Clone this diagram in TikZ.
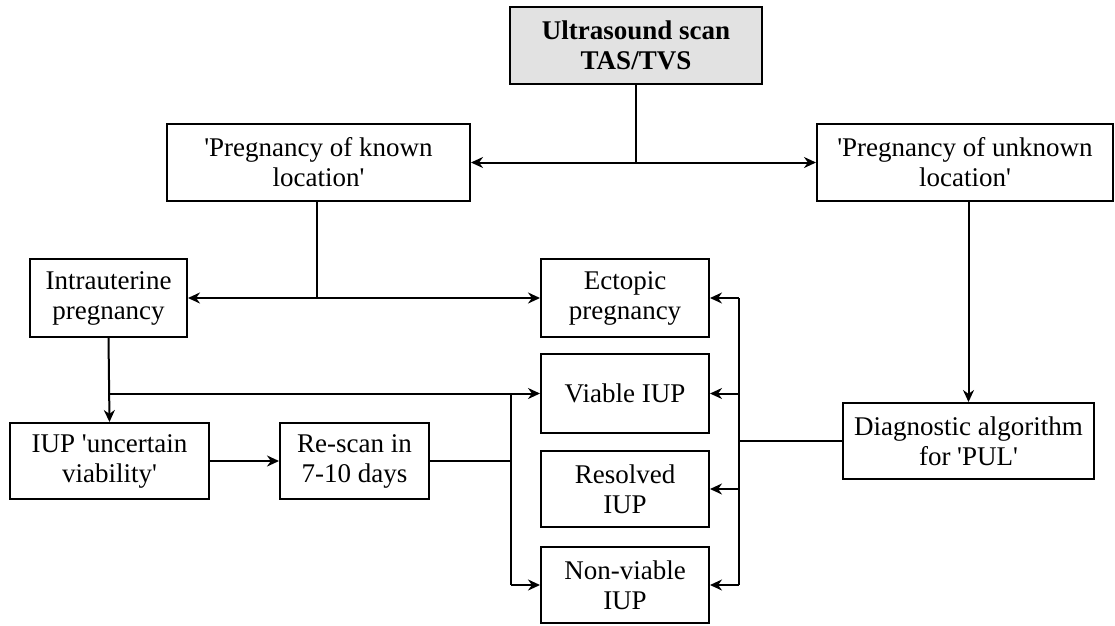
\documentclass[tikz,border=0pt]{standalone}
\usepackage{fontspec}
\setmainfont{Liberation Serif}[Ligatures=TeXOff]
\usetikzlibrary{arrows.meta}
\definecolor{boxgray}{HTML}{E2E2E2}
\begin{document}
\begin{tikzpicture}[x=1pt,y=-1pt,
  every node/.style={font=\fontsize{27}{30}\selectfont},
  box/.style={draw, line width=2pt, align=center, inner sep=0pt},
  conn/.style={line width=2pt},
  arr/.style={conn, -{Stealth[length=12pt,width=11pt]}},
  darr/.style={conn, {Stealth[length=12pt,width=11pt]}-{Stealth[length=12pt,width=11pt]}}]
\useasboundingbox (0,0) rectangle (1115,625);
% nodes
\node[box, fill=boxgray, minimum width=252pt, minimum height=77pt] (us) at (636,45.5) {\textbf{Ultrasound scan}\\\textbf{TAS/TVS}};
\node[box, minimum width=303pt, minimum height=77pt] (pkl) at (318.5,162.5) {'Pregnancy of known\\location'};
\node[box, minimum width=296pt, minimum height=77pt] (pul) at (965,162.5) {'Pregnancy of unknown\\location'};
\node[box, minimum width=157pt, minimum height=78pt] (iu) at (108.5,298) {Intrauterine\\pregnancy};
\node[box, minimum width=168pt, minimum height=78pt] (ect) at (625,298) {Ectopic\\pregnancy};
\node[box, minimum width=168pt, minimum height=79pt] (via) at (625,393.5) {Viable IUP};
\node[box, minimum width=168pt, minimum height=76pt] (res) at (625,489) {Resolved\\IUP};
\node[box, minimum width=168pt, minimum height=76pt] (nv) at (625,585) {Non-viable\\IUP};
\node[box, minimum width=199pt, minimum height=76pt] (iuu) at (109.5,461) {IUP 'uncertain\\viability'};
\node[box, minimum width=149pt, minimum height=76pt] (rs) at (354.5,461) {Re-scan in\\7-10 days};
\node[box, minimum width=251pt, minimum height=76pt] (diag) at (968.5,441) {Diagnostic algorithm\\for 'PUL'};
% junction coordinates
\coordinate (j1) at (us.south |- pkl.east);
\coordinate (j2) at (317,298);
\coordinate (j3) at (iu.south |- via.west);
\coordinate (lb) at (511,461);
\coordinate (lbt) at (511,393.5);
\coordinate (lbb) at (511,585);
\coordinate (rb) at (739,441);
\coordinate (rbt) at (739,298);
\coordinate (rbb) at (739,585);
% connectors
\draw[conn] (us.south) -- (j1);
\draw[darr] (pkl.east) -- (pul.west);
\draw[conn] (pkl.south -| j2) -- (j2);
\draw[darr] (iu.east) -- (ect.west);
\draw[arr] (iu.south) -- (iuu.north);
\draw[arr] (j3) -- (via.west);
\draw[arr] (iuu.east) -- (rs.west);
\draw[conn] (rs.east) -- (lb);
\draw[conn] (lbt) -- (lbb);
\draw[arr] (lbb) -- (nv.west);
\draw[arr] (diag.north |- pul.south) -- (diag.north);
\draw[conn] (diag.west) -- (rb);
\draw[conn] (rbt) -- (rbb);
\draw[arr] (rbt) -- (ect.east);
\draw[arr] (rb |- via.east) -- (via.east);
\draw[arr] (rb |- res.east) -- (res.east);
\draw[arr] (rbb) -- (nv.east);
\end{tikzpicture}
\end{document}
